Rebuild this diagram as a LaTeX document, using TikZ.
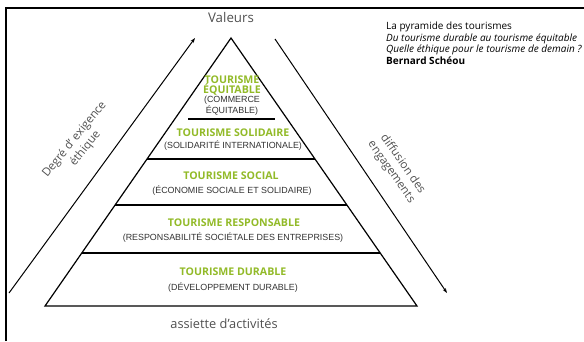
\documentclass[tikz,border=0pt]{standalone}
\usepackage{fontspec}
\setmainfont{Open Sans}
\newfontfamily\capsfont{Liberation Sans}
\usetikzlibrary{arrows.meta,calc}

\definecolor{tourgreen}{RGB}{146,186,40}
\definecolor{labelgray}{RGB}{80,80,80}

\begin{document}
\begin{tikzpicture}[x=1pt,y=-1pt,
  level/.style={font=\fontsize{10.6}{10}\selectfont\bfseries, text=tourgreen, align=center, inner sep=0pt},
  detail/.style={font=\capsfont\fontsize{8.9}{7.4}\selectfont, text=black!80, align=center, inner sep=0pt},
  side/.style={font=\fontsize{11.5}{14}\selectfont, text=labelgray, align=center, inner sep=0pt},
  flow/.style={line width=1pt, -{Stealth[length=5pt,width=3.5pt]}}]
\useasboundingbox (0,0) rectangle (584,341);

% frame
\draw[line width=2pt] (6,341) -- (6,8) -- (584,8);

% pyramid
\coordinate (apex) at (231,38);
\coordinate (baseL) at (45,306);
\coordinate (baseR) at (417,306);
\draw[line width=1.2pt, line join=miter] (apex) -- (baseL) -- (baseR) -- cycle;
\draw[line width=1.2pt] (188,119) -- (275,119);
\foreach \t in {0.4515,0.623,0.802}
  \draw[line width=1.2pt] ($(apex)!\t!(baseL)$) -- ($(apex)!\t!(baseR)$);

\node[level] (equit) at (232,86) {TOURISME\\ÉQUITABLE};
\node[detail] (equitd) at (232,105.5) {(COMMERCE\\ÉQUITABLE)};
\node[level] (solid) at (233,133) {TOURISME SOLIDAIRE};
\node[detail] (solidd) at (233,146) {(SOLIDARITÉ INTERNATIONALE)};
\node[level] (social) at (231,176) {TOURISME SOCIAL};
\node[detail] (sociald) at (232,191) {(ÉCONOMIE SOCIALE ET SOLIDAIRE)};
\node[level] (respons) at (234,223) {TOURISME RESPONSABLE};
\node[detail] (responsd) at (233,238) {(RESPONSABILITÉ SOCIÉTALE DES ENTREPRISES)};
\node[level] (durable) at (233,272) {TOURISME DURABLE};
\node[detail] (durabled) at (233,288) {(DÉVELOPPEMENT DURABLE)};

\node[font=\fontsize{13.3}{14}\selectfont, text=labelgray] (valeurs) at (231,18) {Valeurs};
\node[font=\fontsize{12.8}{14}\selectfont, text=labelgray] (assiette) at (224,324) {assiette d’activités};

% side arrows
\coordinate (leftfoot) at (9,293);
\coordinate (lefttop) at (195,38);
\draw[flow] (leftfoot) -- (lefttop);
\node[side, rotate=51] (exigence) at (80,144) {Degré d’ exigence\\éthique};

\coordinate (righttop) at (275,39);
\coordinate (rightfoot) at (447,293);
\draw[flow] (righttop) -- (rightfoot);
\node[side, rotate=-55] (diffusion) at (397,168) {diffusion des\\engagements};

% source
\node[anchor=north west, align=left, inner sep=0pt, font=\fontsize{10}{11.5}\selectfont] (source) at (386,22)
  {La pyramide des tourismes\\
   \textit{Du tourisme durable au tourisme équitable}\\
   \textit{Quelle éthique pour le tourisme de demain ?}\\
   \textbf{Bernard Schéou}};
\end{tikzpicture}
\end{document}
